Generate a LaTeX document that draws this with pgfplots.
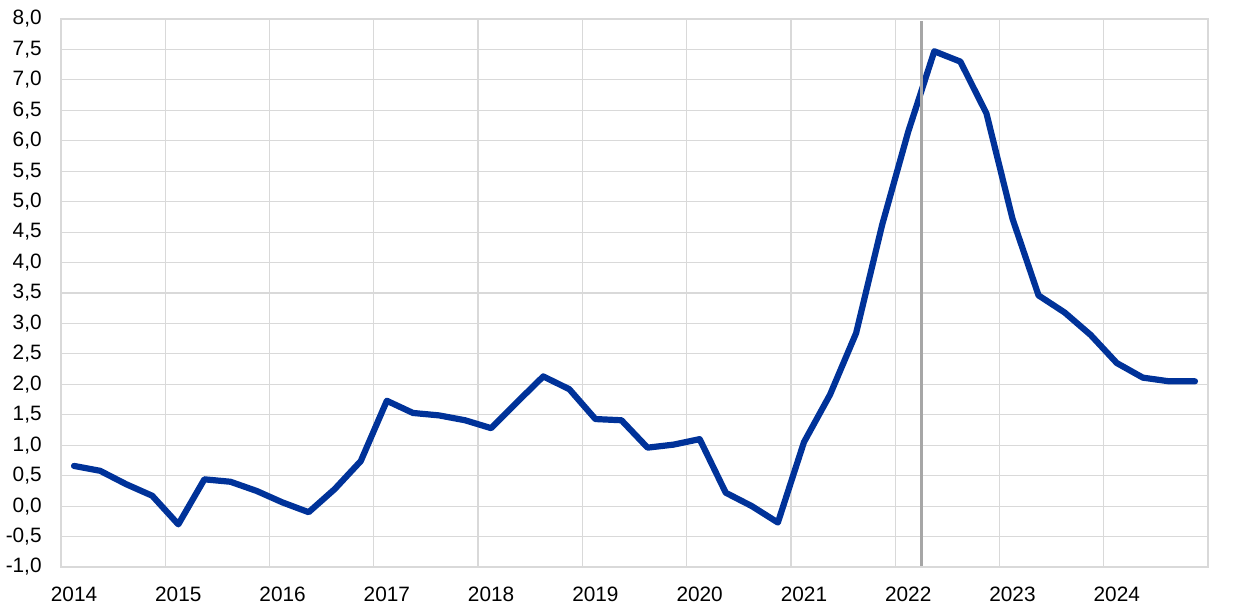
\documentclass[border=0pt]{standalone}
\usepackage{fontspec}
\setmainfont{Liberation Sans}
\usepackage{pgfplots}
\pgfplotsset{compat=1.18}
\definecolor{ecbblue}{HTML}{003299}
\definecolor{gridgray}{HTML}{D9D9D9}
\definecolor{markgray}{HTML}{A6A6A6}
\begin{document}
\fontsize{10.4}{12.5}\selectfont
\begin{tikzpicture}
\path[use as bounding box] (-30.5pt,-22pt) rectangle (589.5pt,283.5pt);
\begin{axis}[
  at={(0pt,0pt)}, anchor=south west,
  scale only axis, width=573.5pt, height=274pt,
  xmin=-0.5, xmax=43.5, ymin=-1, ymax=8,
  xtick={0,4,8,12,16,20,24,28,32,36,40},
  xticklabels={2014,2015,2016,2017,2018,2019,2020,2021,2022,2023,2024},
  minor xtick={3.5,7.5,11.5,15.5,19.5,23.5,27.5,31.5,35.5,39.5},
  ytick={-1,-0.5,0,0.5,1,1.5,2,2.5,3,3.5,4,4.5,5,5.5,6,6.5,7,7.5,8},
  major tick length=0pt, minor tick length=0pt,
  xmajorgrids=false, xminorgrids=true, ymajorgrids=true,
  grid style={gridgray, line width=0.6pt},
  minor grid style={gridgray, line width=0.6pt},
  axis line style={gridgray, line width=0.75pt},
  tick label style={font=\fontsize{10.4}{12.5}\selectfont, inner sep=0pt},
  xticklabel style={anchor=north, yshift=-10pt},
  yticklabel style={anchor=east, xshift=-9.5pt},
  /pgf/number format/.cd, fixed, fixed zerofill, precision=1, use comma, assume math mode=true,
]
\addplot[ecbblue, line width=3.1pt, line join=round, line cap=round] coordinates {
(0,0.66) (1,0.58) (2,0.36) (3,0.17) (4,-0.30) (5,0.44) (6,0.40) (7,0.25)
(8,0.06) (9,-0.10) (10,0.28) (11,0.74) (12,1.73) (13,1.53) (14,1.49) (15,1.41)
(16,1.28) (17,1.71) (18,2.13) (19,1.92) (20,1.43) (21,1.41) (22,0.96) (23,1.01)
(24,1.10) (25,0.22) (26,0.00) (27,-0.27) (28,1.05) (29,1.83) (30,2.84) (31,4.62)
(32,6.15) (33,7.47) (34,7.30) (35,6.45) (36,4.72) (37,3.46) (38,3.18) (39,2.81)
(40,2.35) (41,2.11) (42,2.05) (43,2.05)
};
\addplot[markgray, line width=1.6pt] coordinates {(32.5,-0.98) (32.5,7.96)};
\end{axis}
\end{tikzpicture}
\end{document}
